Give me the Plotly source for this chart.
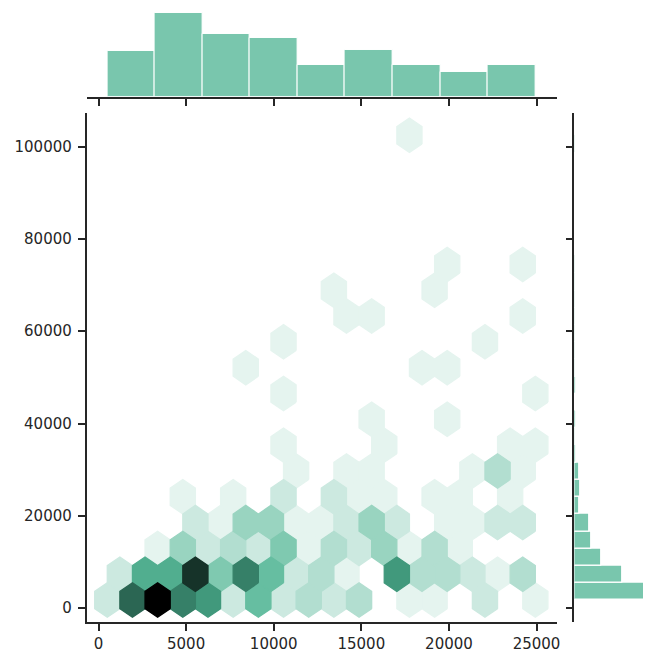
import colorsys
import numpy as np
import plotly.graph_objects as go

# ---------------- data ----------------
# extent of the data (defines the hexbin grid and histogram edges)
x_min, x_max = 500.0, 24930.0
y_min, y_max = 1750.0, 102450.0
gridsize = 17

# hexbin cells: lattice column, row (odd rows = offset lattice), count
hex_col = [0, 1, 2, 3, 4, 5, 6, 7, 8, 9, 10, 12, 13, 15, 17,
           0, 1, 2, 3, 4, 5, 6, 7, 8, 9, 11, 12, 13, 14, 15, 16,
           2, 3, 4, 5, 6, 7, 8, 9, 10, 11, 12, 13, 14,
           3, 4, 5, 6, 7, 8, 9, 10, 11, 13, 14, 15, 16,
           3, 5, 7, 9, 10, 11, 13, 14, 16,
           7, 9, 10, 14, 15, 16,
           7, 11, 16, 17,
           10, 13,
           7, 17,
           5, 12, 13,
           7, 15,
           9, 10, 16,
           9, 13,
           13, 16,
           12]
hex_row = [0] * 15 + [1] * 16 + [2] * 13 + [3] * 13 + [4] * 9 + [5] * 6 + [6] * 4 \
    + [7] * 2 + [8] * 2 + [9] * 3 + [10] * 2 + [11] * 3 + [12] * 2 + [13] * 2 + [18]
hex_count = [2, 10, 14, 9, 8, 2, 6, 2, 3, 2, 3, 1, 1, 2, 1,
             2, 7, 7, 12, 5, 9, 6, 2, 3, 1, 8, 3, 3, 2, 1, 3,
             1, 4, 2, 3, 2, 5, 1, 3, 2, 4, 1, 3, 1,
             2, 1, 4, 4, 1, 1, 2, 4, 2, 1, 1, 2, 2,
             1, 1, 2, 2, 1, 1, 1, 1, 1,
             1, 1, 1, 1, 3, 1,
             1, 1, 1, 1,
             1, 1,
             1, 1,
             1, 1, 1,
             1, 1,
             1, 1, 1,
             1, 1,
             1, 1,
             1]

# marginal histograms
x_hist_counts = [26, 48, 36, 34, 18, 27, 18, 14, 18]
y_hist_counts = [80, 53, 30, 19, 17, 5, 7, 5, 2, 1, 2, 0, 2, 1, 1, 1, 1, 1,
                 1, 1, 0, 0, 0, 0, 0, 0, 1]

x_ticks = [0, 5000, 10000, 15000, 20000, 25000]
y_ticks = [0, 20000, 40000, 60000, 80000, 100000]

# ---------------- styling ----------------
W, H = 646, 653
BASE = "#4CB391"
INK = "#262626"
FONT = dict(family="DejaVu Sans", size=15, color=INK)

x_range = [-680, 26190]
y_range = [-3030, 107360]

# seaborn hex colormap: white -> base hue -> black
rgb = tuple(int(BASE[i:i + 2], 16) / 255 for i in (1, 3, 5))
h, l, s = colorsys.rgb_to_hls(*rgb)
palette = [colorsys.hls_to_rgb(h, v, s) for v in np.linspace(1, 0, 12)]


def cmap(t):
    t = min(max(t, 0.0), 1.0)
    pos = t * (len(palette) - 1)
    i = min(int(pos), len(palette) - 2)
    f = pos - i
    c = [palette[i][k] * (1 - f) + palette[i + 1][k] * f for k in range(3)]
    return "rgb(%d,%d,%d)" % tuple(round(v * 255) for v in c)


nx = gridsize
ny = int(nx / np.sqrt(3))
sx = (x_max - x_min) / nx
sy = (y_max - y_min) / ny
hex_offsets = np.array([[0.5, -0.5], [0.5, 0.5], [0.0, 1.0],
                        [-0.5, 0.5], [-0.5, -0.5], [0.0, -1.0]]) * [sx, sy / 3]
vmax = max(hex_count)

fig = go.Figure()

for cnt in sorted(set(hex_count)):
    xs, ys = [], []
    for c, r, n in zip(hex_col, hex_row, hex_count):
        if n != cnt:
            continue
        cx = x_min + (c + 0.5 * (r % 2)) * sx
        cy = y_min + r * sy / 2
        for dx, dy in hex_offsets:
            xs.append(cx + dx)
            ys.append(cy + dy)
        xs.append(cx + hex_offsets[0][0])
        ys.append(cy + hex_offsets[0][1])
        xs.append(None)
        ys.append(None)
    col = cmap(cnt / vmax)
    fig.add_trace(go.Scatter(x=xs, y=ys, mode="lines", fill="toself",
                             fillcolor=col, line=dict(color=col, width=1.3),
                             hoverinfo="skip", showlegend=False,
                             xaxis="x", yaxis="y"))

# top marginal histogram
x_edges = np.linspace(x_min, x_max, len(x_hist_counts) + 1)
fig.add_trace(go.Bar(x=(x_edges[:-1] + x_edges[1:]) / 2, y=x_hist_counts,
                     width=np.diff(x_edges),
                     marker=dict(color="rgba(76,179,145,0.75)",
                                 line=dict(color="white", width=1)),
                     hoverinfo="skip", showlegend=False,
                     xaxis="x2", yaxis="y2"))

# right marginal histogram
y_edges = np.linspace(y_min, y_max, len(y_hist_counts) + 1)
fig.add_trace(go.Bar(y=(y_edges[:-1] + y_edges[1:]) / 2, x=y_hist_counts,
                     width=np.diff(y_edges), orientation="h",
                     marker=dict(color="rgba(76,179,145,0.75)",
                                 line=dict(color="white", width=1.2)),
                     hoverinfo="skip", showlegend=False,
                     xaxis="x3", yaxis="y3"))

main_xdom = [87 / W, 560 / W]
main_ydom = [1 - 624 / H, 1 - 113 / H]

axis_common = dict(showgrid=False, zeroline=False, showline=True,
                   linecolor=INK, linewidth=1.6, ticks="outside",
                   ticklen=7, tickwidth=1.5, tickcolor=INK, tickfont=FONT)

fig.update_layout(
    width=W, height=H, autosize=False,
    margin=dict(l=0, r=0, t=0, b=0),
    paper_bgcolor="white", plot_bgcolor="white",
    bargap=0,
    xaxis=dict(domain=main_xdom, range=x_range, tickvals=x_ticks,
               ticktext=[str(v) for v in x_ticks], anchor="y",
               ticklabelstandoff=0, **axis_common),
    yaxis=dict(domain=main_ydom, range=y_range, tickvals=y_ticks,
               ticktext=[str(v) for v in y_ticks], anchor="x",
               ticklabelstandoff=3, **axis_common),
    xaxis2=dict(domain=main_xdom, range=x_range, tickvals=x_ticks,
                showticklabels=False, anchor="y2", **axis_common),
    yaxis2=dict(domain=[1 - 97 / H, 1 - 9 / H],
                range=[0, max(x_hist_counts) * 1.05], visible=False,
                anchor="x2"),
    xaxis3=dict(domain=[577 / W, 1.0], range=[0, 76], visible=False,
                anchor="y3"),
    yaxis3=dict(domain=main_ydom, range=y_range, tickvals=y_ticks,
                showticklabels=False, anchor="x3", **axis_common),
)

# remove the default page margin so the figure fills the window exactly
fig.write_html("out.html",
               config={"displayModeBar": False},
               post_script="document.body.style.margin='0';"
                           "document.body.style.overflow='hidden';")
